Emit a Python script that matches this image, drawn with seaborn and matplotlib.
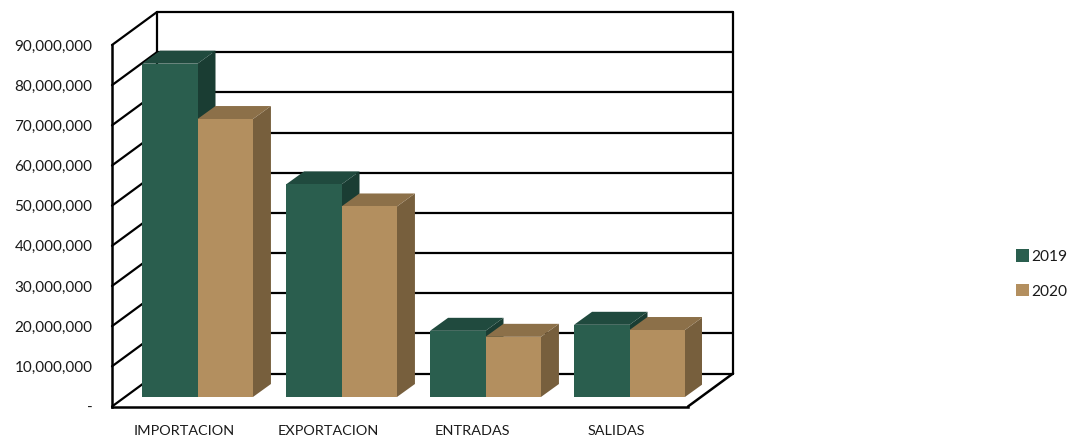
import matplotlib
matplotlib.use("Agg")
import matplotlib.pyplot as plt
import matplotlib.transforms as mtrans
from matplotlib.patches import Polygon
import pandas as pd
import seaborn as sns

categories = ["IMPORTACION", "EXPORTACION", "ENTRADAS", "SALIDAS"]
years = ["2019", "2020"]
values_2019 = [83100000, 53000000, 16500000, 18000000]
values_2020 = [69300000, 47500000, 15000000, 16700000]
yticks = [0, 10000000, 20000000, 30000000, 40000000, 50000000, 60000000, 70000000, 80000000, 90000000]

W, H = 1072, 442
FRONT_COLORS = ["#2A5E4E", "#B38F5F"]
SIDE_COLORS = ["#1A3D33", "#775F3D"]
TOP_COLORS = ["#204A3E", "#8C7049"]


def px_axes(fig, left, right, bottom, top):
    # axes placed by image pixels, y measured from the top
    return fig.add_axes([left / W, 1 - bottom / H, (right - left) / W, (bottom - top) / H])


df = pd.DataFrame({
    "cat": categories * 2,
    "year": [years[0]] * 4 + [years[1]] * 4,
    "val": values_2019 + values_2020,
})

sns.set_style("white")
plt.rcParams["font.family"] = ["Lato", "DejaVu Sans"]
fig = plt.figure(figsize=(W / 100, H / 100), dpi=100)

# front plane of the box carries the axis labels and the walls
ax = px_axes(fig, 112, 688, 406.5, 45)
ax.set_xlim(-0.5, 3.5)
ax.set_ylim(0, 90000000)
ax.patch.set_alpha(0)
ax.set_xticks(range(4))
ax.set_xticklabels(categories, fontsize=10.4, color="#1a1a1a")
ax.set_yticks(yticks)
ax.set_yticklabels(["-"] + [f"{v:,}" for v in yticks[1:]], fontsize=11, color="#1a1a1a")
ax.tick_params(axis="x", length=0, pad=13.5)
ax.tick_params(axis="y", length=0, pad=14)
for s in ["top", "right"]:
    ax.spines[s].set_visible(False)
for s in ["left", "bottom"]:
    ax.spines[s].set_linewidth(1.8)
    ax.spines[s].set_color("black")

back = ax.transData + mtrans.Affine2D().translate(45, 33)
for v in yticks:
    ax.plot([-0.5, 3.5], [v, v], color="black", lw=1.6, transform=back, clip_on=False, zorder=1)
    p0 = ax.transData.transform((-0.5, v))
    ax.plot([p0[0], p0[0] + 45], [p0[1], p0[1] + 33], color="black", lw=1.6,
            transform=None, clip_on=False, zorder=1)
ax.plot([-0.5, -0.5], [0, 90000000], color="black", lw=1.6, transform=back, clip_on=False, zorder=1)
ax.plot([3.5, 3.5], [0, 90000000], color="black", lw=1.6, transform=back, clip_on=False, zorder=1)
p1 = ax.transData.transform((3.5, 0))
ax.plot([p1[0], p1[0] + 45], [p1[1], p1[1] + 33], color="black", lw=1.8,
        transform=None, clip_on=False, zorder=1)

# the bars sit a little behind the front plane
bx = px_axes(fig, 125.5, 701.5, 397, 36)
sns.barplot(data=df, x="cat", y="val", hue="year", palette=FRONT_COLORS, ax=bx,
            width=0.77, saturation=1, gap=0, legend=True, linewidth=0, edgecolor="none")
bx.set_xlim(-0.5, 3.5)
bx.set_ylim(0, 90000000)
bx.patch.set_alpha(0)
bx.axis("off")

# side and top faces, drawn from each bar's own rectangle
for i, cont in enumerate(bx.containers):
    for bar in cont:
        x0, y0 = bar.get_x(), bar.get_y()
        x1, y1 = x0 + bar.get_width(), y0 + bar.get_height()
        (ax0, ay0), (ax1, ay1) = bx.transData.transform([(x0, y0), (x1, y1)])
        dx, dy = 18, 13
        side = Polygon([(ax1, ay0), (ax1 + dx, ay0 + dy), (ax1 + dx, ay1 + dy), (ax1, ay1)],
                       closed=True, transform=None, facecolor=SIDE_COLORS[i], lw=0, zorder=2 + i)
        top = Polygon([(ax0, ay1), (ax0 + dx, ay1 + dy), (ax1 + dx, ay1 + dy), (ax1, ay1)],
                      closed=True, transform=None, facecolor=TOP_COLORS[i], lw=0, zorder=2 + i)
        bx.add_artist(side)
        bx.add_artist(top)
    for bar in cont:
        bar.set_zorder(2.5 + i)

leg = bx.legend(loc="center left", bbox_to_anchor=(1016 / W, 1 - 274 / H),
                bbox_transform=fig.transFigure, frameon=False, title=None,
                fontsize=11.2, handlelength=0.85, handleheight=0.85, handletextpad=0.1,
                labelspacing=1.28, borderpad=0, borderaxespad=0)
for t in leg.get_texts():
    t.set_color("#1a1a1a")

fig.savefig("out.png", dpi=100)
